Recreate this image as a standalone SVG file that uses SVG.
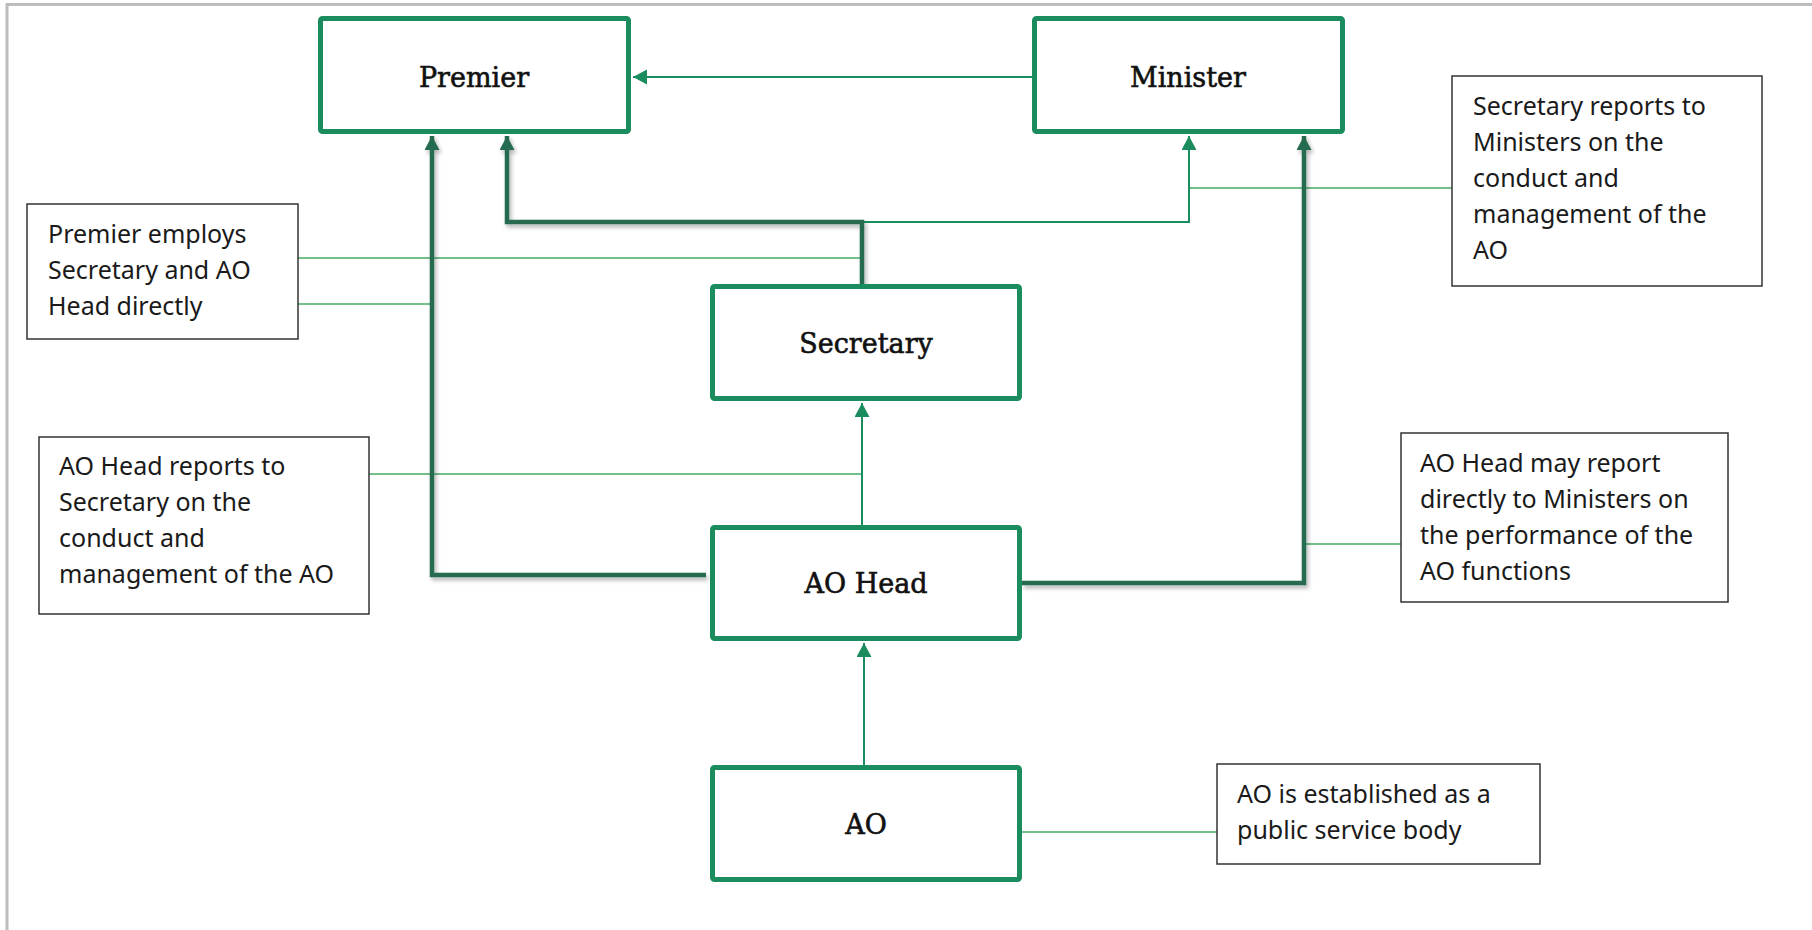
<svg xmlns="http://www.w3.org/2000/svg" width="1812" height="930" viewBox="0 0 1812 930">
<style>
.node{fill:#fff;stroke:#1a8c5e;stroke-width:5;}
.nlabel{font-family:"DejaVu Serif","Liberation Serif",serif;font-size:27px;fill:#111;stroke:#111;stroke-width:0.6;text-anchor:middle;}
.note{fill:#fff;stroke:#333;stroke-width:1.5;}
.ntext{font-family:"Noto Sans","Open Sans",sans-serif;font-size:25px;fill:#1a1a1a;}
.thin{fill:none;stroke:#1a8c5e;stroke-width:2;}
.thick{fill:none;stroke:#276b50;stroke-width:4.5;}
.lead{fill:none;stroke:#72c08a;stroke-width:2;}
.frame{stroke:#bdbdbd;stroke-width:3;fill:none;}
</style>
<defs>
<marker id="aThin" markerWidth="16" markerHeight="16" refX="14" refY="7.5" orient="auto" markerUnits="userSpaceOnUse">
<path d="M0,0 L14,7.5 L0,15 Z" fill="#1a8c5e"/>
</marker>
<marker id="aThick" markerWidth="16" markerHeight="16" refX="14" refY="7.5" orient="auto" markerUnits="userSpaceOnUse">
<path d="M0,0 L14,7.5 L0,15 Z" fill="#276b50"/>
</marker>
<filter id="sh" x="-10%" y="-10%" width="130%" height="130%">
<feDropShadow dx="2" dy="3" stdDeviation="2" flood-color="#000" flood-opacity="0.3"/>
</filter>
</defs>
<rect width="1812" height="930" fill="#fff"/>
<path class="frame" d="M7,930 V4.5 H1812"/>

<g id="connectors">
<!-- leader lines from notes -->
<path class="lead" d="M298,258 H862"/>
<path class="lead" d="M298,304 H432"/>
<path class="lead" d="M369,474 H862"/>
<path class="lead" d="M1189,188 H1452"/>
<path class="lead" d="M1304,544 H1401"/>
<path class="lead" d="M1022,832 H1217"/>
<!-- thin arrows -->
<path class="thin" d="M1032,77 H633" marker-end="url(#aThin)"/>
<path class="thin" d="M862,222 H1189 V136" marker-end="url(#aThin)"/>
<path class="thin" d="M862,525 V403" marker-end="url(#aThin)"/>
<path class="thin" d="M864,765 V643" marker-end="url(#aThin)"/>
<!-- thick arrows -->
<g filter="url(#sh)">
<path class="thick" d="M706,575 H432 V136" marker-end="url(#aThick)"/>
<path class="thick" d="M862,285 V222 H507 V136" marker-end="url(#aThick)"/>
<path class="thick" d="M1022,583 H1304 V136" marker-end="url(#aThick)"/>
</g>
</g>

<g id="premier">
<rect class="node" x="320.5" y="18.5" width="308" height="113" rx="2"/>
<text class="nlabel" x="474" y="87">Premier</text>
</g>
<g id="minister">
<rect class="node" x="1034.5" y="18.5" width="308" height="113" rx="2"/>
<text class="nlabel" x="1188" y="87">Minister</text>
</g>
<g id="secretary">
<rect class="node" x="712.5" y="286.5" width="307" height="112" rx="2"/>
<text class="nlabel" x="866" y="353">Secretary</text>
</g>
<g id="aohead">
<rect class="node" x="712.5" y="527.5" width="307" height="111" rx="2"/>
<text class="nlabel" x="866" y="593">AO Head</text>
</g>
<g id="ao">
<rect class="node" x="712.5" y="767.5" width="307" height="112" rx="2"/>
<text class="nlabel" x="866" y="834">AO</text>
</g>

<g id="note-premier">
<rect class="note" x="27" y="204" width="271" height="135"/>
<text class="ntext" x="48" y="243">Premier employs</text>
<text class="ntext" x="48" y="279">Secretary and AO</text>
<text class="ntext" x="48" y="315">Head directly</text>
</g>
<g id="note-secretary">
<rect class="note" x="1452" y="76" width="310" height="210"/>
<text class="ntext" x="1473" y="115">Secretary reports to</text>
<text class="ntext" x="1473" y="151">Ministers on the</text>
<text class="ntext" x="1473" y="187">conduct and</text>
<text class="ntext" x="1473" y="223">management of the</text>
<text class="ntext" x="1473" y="259">AO</text>
</g>
<g id="note-aohead">
<rect class="note" x="39" y="437" width="330" height="177"/>
<text class="ntext" x="59" y="475">AO Head reports to</text>
<text class="ntext" x="59" y="511">Secretary on the</text>
<text class="ntext" x="59" y="547">conduct and</text>
<text class="ntext" x="59" y="583">management of the AO</text>
</g>
<g id="note-ministers">
<rect class="note" x="1401" y="433" width="327" height="169"/>
<text class="ntext" x="1420" y="472">AO Head may report</text>
<text class="ntext" x="1420" y="508">directly to Ministers on</text>
<text class="ntext" x="1420" y="544">the performance of the</text>
<text class="ntext" x="1420" y="580">AO functions</text>
</g>
<g id="note-ao">
<rect class="note" x="1217" y="764" width="323" height="100"/>
<text class="ntext" x="1237" y="803">AO is established as a</text>
<text class="ntext" x="1237" y="839">public service body</text>
</g>
</svg>
